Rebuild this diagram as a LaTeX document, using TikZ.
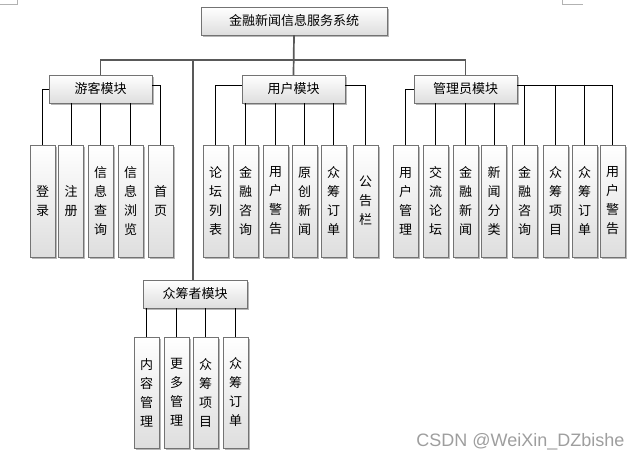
\documentclass[tikz,border=0pt]{standalone}
\usepackage{fontspec}
\setmainfont{Noto Sans CJK SC}
\setsansfont{Liberation Sans}
\usetikzlibrary{
  shadows
  , calc
}

\tikzset{
  boxbase/.style={draw=black!55,
    top color=white,
    bottom color=black!13,
    drop shadow={shadow xshift=1.6pt, shadow yshift=-1.6pt, fill=black!40, opacity=.7},
    inner sep=0pt},
  modbox/.style={boxbase,
    minimum width=103pt,
    minimum height=28pt,
    font=\fontsize{13}{15}\selectfont},
  leafbox/.style={boxbase,
    minimum width=25pt,
    minimum height=112pt,
    align=center,
    font=\fontsize{13}{19}\selectfont},
  link/.style={draw=black, line width=0.9pt},
  buslink/.style={draw=black!65, line width=1.7pt},
}

\begin{document}
\begin{tikzpicture}[x=1pt, y=-1pt]
      \useasboundingbox (0, 0) rectangle (642, 462);

      % page corner marks
      \draw[black!30, line width=0.8pt] (0, 4.5) -- (17, 4.5) -- (17, 0);
      \draw[black!30, line width=0.8pt] (562, 0) -- (562, 4.5) -- (583, 4.5);

      \node [modbox, minimum width=186pt] (Root) at (294, 21){金融新闻信息服务系统};

      \node [modbox] (GuestMod) at (100.5, 89){游客模块};
      \node [modbox] (UserMod) at (293.5, 89){用户模块};
      \node [modbox] (AdminMod) at (465.5, 89){管理员模块};
      \node [modbox, minimum width=104pt] (CrowdMod) at (195, 294){众筹者模块};

      % leaves
      \foreach \x/\t [count=\i] in {42.5/登\\录, 71/注\\册, 100.5/信\\息\\查\\询,
        130.5/信\\息\\浏\\览, 160.5/首\\页}
      \node [leafbox] (Guest\i) at (\x, 201){\t};

      \foreach \x/\t [count=\i] in {215.5/论\\坛\\列\\表, 245.5/金\\融\\咨\\询,
        275.5/用\\户\\警\\告, 304.5/原\\创\\新\\闻, 333.5/众\\筹\\订\\单,
        365.5/公\\告\\栏}
      \node [leafbox] (User\i) at (\x, 201){\t};

      \foreach \x/\t [count=\i] in {405.5/用\\户\\管\\理, 435.5/交\\流\\论\\坛,
        465.5/金\\融\\新\\闻, 494/新\\闻\\分\\类, 524.5/金\\融\\咨\\询,
        555.5/众\\筹\\项\\目, 584.5/众\\筹\\订\\单, 612.5/用\\户\\警\\告}
      \node [leafbox] (Admin\i) at (\x, 201){\t};

      \foreach \x/\t [count=\i] in {146.5/内\\容\\管\\理, 176.5/更\\多\\管\\理,
        205.5/众\\筹\\项\\目, 235.5/众\\筹\\订\\单}
      \node [leafbox, minimum height=111pt] (Crowd\i) at (\x, 392.5){\t};

      % top level bus
      \coordinate (Bus) at (294, 60);
      \draw[buslink] (Root.south) -- (UserMod.north);
      \draw[buslink] (GuestMod.north) |- (Bus) -| (AdminMod.north);
      \draw[buslink] ([xshift=-2pt]Bus -| CrowdMod.north) -- ([xshift=-2pt]CrowdMod.north);

      % module to leaf
      \draw[link] (GuestMod.west) -| (Guest1.north);
      \foreach \i in {2,3,4}
      \draw[link] (Guest\i.north) -- (Guest\i.north |- GuestMod.south);
      \draw[link] ([yshift=4pt]GuestMod.east) -| (Guest5.north);

      \draw[link] ([yshift=4pt]UserMod.west) -| (User1.north);
      \foreach \i in {2,...,5}
      \draw[link] (User\i.north) -- (User\i.north |- UserMod.south);
      \draw[link] ([yshift=4pt]UserMod.east) -| (User6.north);

      \draw[link] (AdminMod.west) -| (Admin1.north);
      \foreach \i in {2,3,4}
      \draw[link] (Admin\i.north) -- (Admin\i.north |- AdminMod.south);
      \foreach \i in {5,...,8}
      \draw[link] ([yshift=4pt]AdminMod.east) -| (Admin\i.north);

      \foreach \i in {1,...,4}
      \draw[link] (Crowd\i.north) -- (Crowd\i.north |- CrowdMod.south);

      \node [font=\sffamily\fontsize{18}{18}\selectfont, text=black!38, anchor=east]
      (Mark) at (628, 442){CSDN @WeiXin\_DZbishe};

    \end{tikzpicture}
\end{document}
